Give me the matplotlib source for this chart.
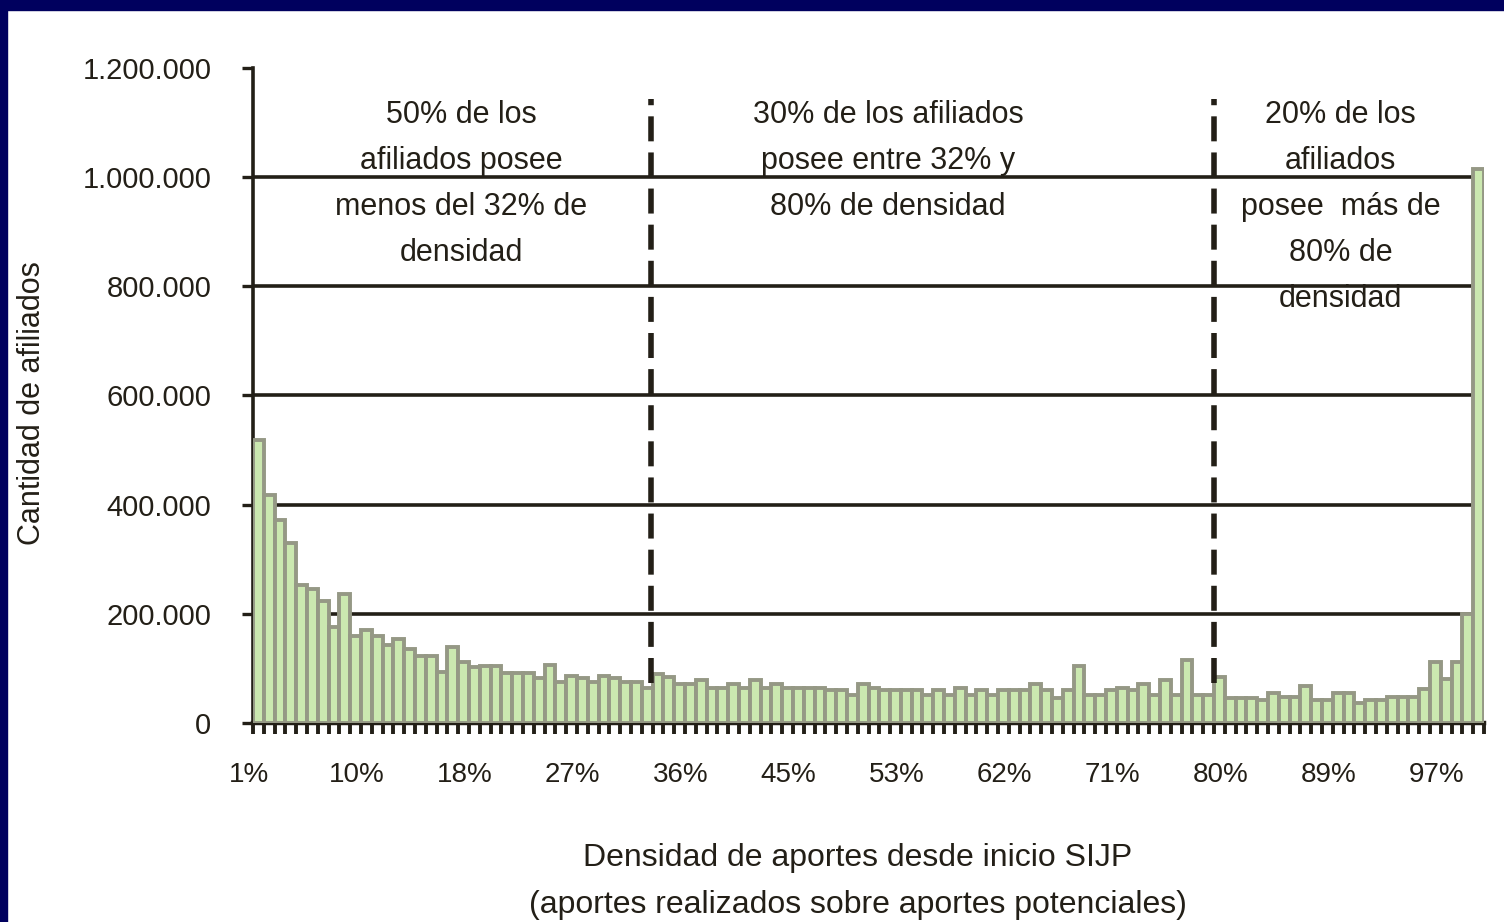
import numpy as np
import matplotlib
matplotlib.use("Agg")
import matplotlib.pyplot as plt
from matplotlib.patches import Rectangle
from matplotlib.ticker import FuncFormatter

# afiliados por tramo de densidad de aportes (114 tramos)
afiliados = [
    518000, 417000, 371000, 329000, 252000, 246000, 224000, 175000, 236000, 159000,
    170000, 159000, 142000, 153000, 136000, 122000, 122000, 93000, 140000, 111000,
    102000, 105000, 105000, 92000, 92000, 92000, 82000, 106000, 76000, 87000,
    82000, 76000, 87000, 82000, 76000, 76000, 65000, 90000, 84000, 71000,
    71000, 79000, 65000, 65000, 71000, 65000, 79000, 65000, 71000, 65000,
    65000, 65000, 65000, 60000, 60000, 52000, 71000, 65000, 60000, 60000,
    60000, 60000, 52000, 60000, 52000, 65000, 52000, 60000, 52000, 60000,
    60000, 60000, 71000, 60000, 46000, 60000, 104000, 52000, 52000, 60000,
    65000, 60000, 71000, 52000, 79000, 52000, 115000, 52000, 52000, 85000,
    46000, 46000, 46000, 42000, 55000, 48000, 48000, 67000, 42000, 42000,
    55000, 55000, 36000, 43000, 43000, 48000, 48000, 48000, 62000, 111000,
    81000, 111000, 200000, 1015000,
]
x_labels = ["1%", "10%", "18%", "27%", "36%", "45%", "53%", "62%", "71%", "80%", "89%", "97%"]
y_ticks = [0, 200000, 400000, 600000, 800000, 1000000, 1200000]
cortes = [36.4, 88.5]  # posiciones de los cortes 32% y 80%

bloques = [
    (18.8, ["50% de los", "afiliados posee", "menos del 32% de", "densidad"]),
    (58.3, ["30% de los afiliados", "posee entre 32% y", "80% de densidad"]),
    (100.2, ["20% de los", "afiliados", "posee  más de", "80% de", "densidad"]),
]

plt.rcParams["font.family"] = ["Liberation Sans", "DejaVu Sans"]
INK = "#231f17"
NAVY = "#00005e"

W, H = 1504, 922
fig = plt.figure(figsize=(W / 100, H / 100), dpi=100, facecolor="white")
fig.patches.append(Rectangle((0, 1 - 10 / H), 1, 10 / H, transform=fig.transFigure,
                             color=NAVY, zorder=0))
fig.patches.append(Rectangle((0, 0), 7 / W, 1, transform=fig.transFigure,
                             color=NAVY, zorder=0))

ax = fig.add_axes([253 / W, 1 - 723 / H, (1484 - 253) / W, (723 - 68) / H])
n = len(afiliados)
xs = np.arange(n)
ax.bar(xs, afiliados, width=1.0, color="#cbe8b0", edgecolor="#959885",
       linewidth=2.8, zorder=3)

for v in y_ticks[1:-1]:
    ax.axhline(v, color=INK, lw=2.6, zorder=1)

for c in cortes:
    ax.plot([c, c], [73000, 1144000], color=INK, lw=4, ls=(0, (4.5, 2)), zorder=4,
            solid_capstyle="butt", dash_capstyle="butt")

ax.set_xlim(-0.5, n - 0.5)
ax.set_ylim(0, 1200000)
ax.set_yticks(y_ticks)
ax.yaxis.set_major_formatter(FuncFormatter(lambda v, p: f"{int(v):,}".replace(",", ".")))
ax.tick_params(axis="y", direction="out", length=8, width=2.4, color=INK,
               labelsize=21, labelcolor=INK, pad=22)
ax.set_xticks([])
ax.set_xticks(np.arange(-0.5, n), minor=True)
ax.tick_params(axis="x", which="minor", direction="out", length=8, width=2.8, color=INK)

for k, lab in enumerate(x_labels):
    ax.text(10 * k - 0.9, -0.079, lab, transform=ax.get_xaxis_transform(),
            ha="center", va="center", fontsize=20, color=INK, clip_on=False)

for s in ["top", "right"]:
    ax.spines[s].set_visible(False)
ax.spines["left"].set_linewidth(2.6)
ax.spines["bottom"].set_linewidth(3.2)
ax.spines["left"].set_color(INK)
ax.spines["bottom"].set_color(INK)

paso = 84500
for cx, lineas in bloques:
    for i, t in enumerate(lineas):
        ax.text(cx, 1114000 - i * paso, t, ha="center", va="center",
                fontsize=22, color=INK, zorder=5)

fig.text(32 / W, 1 - 403 / H, "Cantidad de afiliados", rotation=90,
         ha="center", va="center", fontsize=22, color=INK)
fig.text(858 / W, 1 - 858 / H, "Densidad de aportes desde inicio SIJP",
         ha="center", va="center", fontsize=23, color=INK)
fig.text(858 / W, 1 - 905 / H, "(aportes realizados sobre aportes potenciales)",
         ha="center", va="center", fontsize=23, color=INK)

fig.savefig("out.png", dpi=100, facecolor=fig.get_facecolor())
